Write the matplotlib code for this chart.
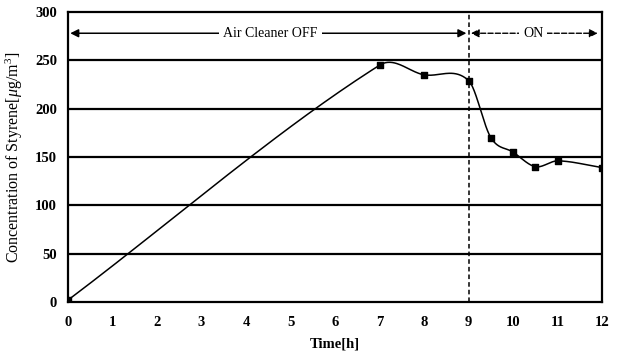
import matplotlib.pyplot as plt
import numpy as np

plt.rcParams['font.family'] = ['Liberation Serif', 'DejaVu Serif']
plt.rcParams['mathtext.fontset'] = 'custom'
plt.rcParams['mathtext.rm'] = 'Liberation Serif'
plt.rcParams['mathtext.it'] = 'Liberation Serif:italic'

# data
time_h = [0, 7, 8, 9, 9.5, 10, 10.5, 11, 12]
styrene = [2, 245, 235, 229, 170, 155, 140, 146, 139]
x_ticks = list(range(0, 13))
y_ticks = [0, 50, 100, 150, 200, 250, 300]


def smooth(xs, ys, n=40):
    # smoothed line through the points: cubic Hermite with finite-difference slopes
    xs = np.asarray(xs, float)
    ys = np.asarray(ys, float)
    m = np.zeros_like(ys)
    m[0] = (ys[1] - ys[0]) / (xs[1] - xs[0])
    m[-1] = (ys[-1] - ys[-2]) / (xs[-1] - xs[-2])
    m[1:-1] = (ys[2:] - ys[:-2]) / (xs[2:] - xs[:-2])
    outx, outy = [], []
    t = np.linspace(0, 1, n)
    for i in range(len(xs) - 1):
        h = xs[i + 1] - xs[i]
        h00 = 2 * t ** 3 - 3 * t ** 2 + 1
        h10 = t ** 3 - 2 * t ** 2 + t
        h01 = -2 * t ** 3 + 3 * t ** 2
        h11 = t ** 3 - t ** 2
        outx.extend(xs[i] + t * h)
        outy.extend(h00 * ys[i] + h10 * h * m[i] + h01 * ys[i + 1] + h11 * h * m[i + 1])
    return outx, outy


fig = plt.figure(figsize=(6.24, 3.63), dpi=100)
ax = fig.add_axes([0.109, 0.168, 0.856, 0.799])

for yv in y_ticks[1:-1]:
    ax.axhline(yv, color='black', linewidth=1.6, zorder=1)

sx, sy = smooth(time_h, styrene)
ax.plot(sx, sy, color='black', linewidth=1.1, zorder=3)
ax.scatter(time_h, styrene, marker='s', color='black', s=22, zorder=4)

ax.axvline(9, color='black', linestyle=(0, (3, 2)), linewidth=1.1, zorder=2)

# arrows
ay = 278
ax.annotate('', xy=(0.05, ay), xytext=(8.95, ay),
            arrowprops=dict(arrowstyle='<|-|>', color='black', lw=1.1, mutation_scale=12,
                            shrinkA=0, shrinkB=0))
ax.text(4.55, ay, 'Air Cleaner OFF', ha='center', va='center', fontsize=10,
        bbox=dict(facecolor='white', edgecolor='none', pad=3))
ax.annotate('', xy=(9.05, ay), xytext=(11.9, ay),
            arrowprops=dict(arrowstyle='<|-|>', color='black', lw=1.0, linestyle='--',
                            mutation_scale=12, shrinkA=0, shrinkB=0))
ax.text(10.45, ay, 'ON', ha='center', va='center', fontsize=10,
        bbox=dict(facecolor='white', edgecolor='none', pad=3))

ax.set_xlim(0, 12)
ax.set_ylim(0, 300)
ax.set_xticks(x_ticks)
ax.set_yticks(y_ticks)
ax.tick_params(axis='x', length=0, labelsize=10.5, pad=10)
ax.tick_params(axis='y', length=0, labelsize=10.5, pad=8)
for lab in ax.get_xticklabels() + ax.get_yticklabels():
    lab.set_fontweight('bold')
for s in ax.spines.values():
    s.set_linewidth(1.6)

ax.set_xlabel('Time[h]', fontsize=10.5, fontweight='bold', labelpad=6)
ax.set_ylabel(r'Concentration of Styrene[$\mathit{\mu}$g/m$^3$]', fontsize=11.5, labelpad=7)

plt.savefig('out.png', dpi=100)
